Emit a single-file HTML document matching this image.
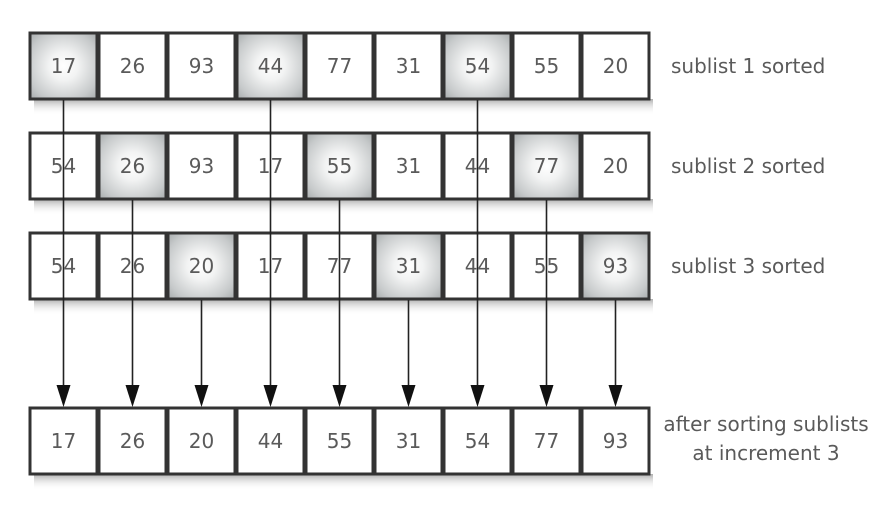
<!DOCTYPE html>
<html><head><meta charset="utf-8"><style>
html,body{margin:0;padding:0;background:#fff;width:896px;height:518px;overflow:hidden}
svg{display:block}
text{font-family:"DejaVu Sans","Liberation Sans",sans-serif;fill:#5a5a5a}
</style></head><body>
<svg width="896" height="518" viewBox="0 0 896 518" xmlns="http://www.w3.org/2000/svg">
<defs>
<radialGradient id="sh" cx="50%" cy="50%" r="72%">
<stop offset="0" stop-color="#ffffff"/><stop offset="0.3" stop-color="#f2f3f3"/><stop offset="0.75" stop-color="#c6c9ca"/><stop offset="1" stop-color="#a3a7a9"/>
</radialGradient>
<linearGradient id="shadow" x1="0" y1="0" x2="0" y2="1">
<stop offset="0" stop-color="#777" stop-opacity="0.6"/><stop offset="1" stop-color="#fff" stop-opacity="0"/>
</linearGradient>
</defs>
<g id="all"></g>
</svg>
<script>
var rows=[
 {y:33,v:[17,26,93,44,77,31,54,55,20],s:[0,3,6],l:["sublist 1 sorted"]},
 {y:133,v:[54,26,93,17,55,31,44,77,20],s:[1,4,7],l:["sublist 2 sorted"]},
 {y:233,v:[54,26,20,17,77,31,44,55,93],s:[2,5,8],l:["sublist 3 sorted"]},
 {y:408,v:[17,26,20,44,55,31,54,77,93],s:[],l:["after sorting sublists","at increment 3"]}
];
var H=66,W=67,X0=30,P=69,out="";
rows.forEach(function(r){
 out+='<rect x="'+(X0+4)+'" y="'+(r.y+H)+'" width="'+(P*8+W)+'" height="16" fill="url(#shadow)"/>';
});
rows.forEach(function(r){
 for(var i=0;i<9;i++){
  var x=X0+P*i;
  var f=r.s.indexOf(i)>=0?'url(#sh)':'#fff';
  out+='<rect x="'+x+'" y="'+r.y+'" width="'+W+'" height="'+H+'" fill="'+f+'" stroke="#333" stroke-width="3"/>';
  out+='<text x="'+(x+W/2)+'" y="'+(r.y+H/2+7)+'" font-size="20" text-anchor="middle">'+r.v[i]+'</text>';
 }
 if(r.l.length==1){
  out+='<text x="671" y="'+(r.y+H/2+7)+'" font-size="20">'+r.l[0]+'</text>';
 }else{
  out+='<text x="766" y="'+(r.y+23)+'" font-size="20" text-anchor="middle">'+r.l[0]+'</text>';
  out+='<text x="766" y="'+(r.y+52)+'" font-size="20" text-anchor="middle">'+r.l[1]+'</text>';
 }
});
for(var i=0;i<9;i++){
 var cx=X0+P*i+W/2, y0=rows[i%3].y+H+1;
 out+='<line x1="'+cx+'" y1="'+y0+'" x2="'+cx+'" y2="388" stroke="#222" stroke-width="1.6"/>';
 out+='<polygon points="'+(cx-7)+',385 '+(cx+7)+',385 '+cx+',407" fill="#111"/>';
}
document.getElementById('all').innerHTML=out;
</script>
</body></html>
